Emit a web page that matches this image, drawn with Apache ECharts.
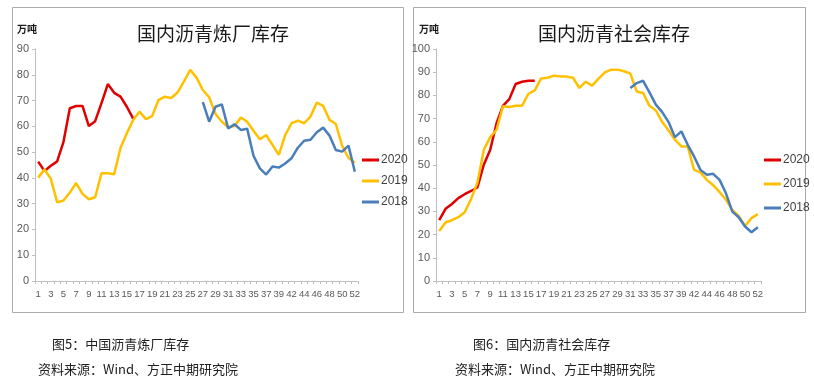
<!DOCTYPE html>
<html>
<head>
<meta charset="utf-8">
<script src="https://cdn.jsdelivr.net/npm/echarts@6/dist/echarts.min.js"></script>
<style>
html,body{margin:0;padding:0;background:#fff;}
#c{width:814px;height:383px;}
</style>
</head>
<body>
<div id="c"></div>
<script>
// Week categories (week 40 absent in source axis)
const weeks = ['1','2','3','4','5','6','7','8','9','10','11','12','13','14','15','16','17','18','19','20','21','22','23','24','25','26','27','28','29','30','31','32','33','34','35','36','37','38','39','41','42','43','44','45','46','47','48','49','50','51','52'];

// Chart 1: refinery inventory (万吨)
const refinery2020 = [46.3,42.7,44.7,46.4,54,67,67.9,67.9,60.1,62,69,76.4,73,71.5,67.6,63];
const refinery2019 = [40.1,43.3,39.6,30.5,31.2,34.3,38,33.8,31.7,32.5,41.8,41.8,41.4,51.6,57.3,62.5,65.7,62.8,64,70.2,71.5,71,73.1,77.3,81.9,78.9,74.1,71.3,64.8,61.8,59.6,60.1,63.4,61.8,58.3,55,56.6,52.8,48.9,56.6,61.2,62.2,61.2,63.8,69.2,67.9,62.5,60.9,52.4,47.7,45.9];
const refinery2018Start = 26; // first value at week 27
const refinery2018 = [69.4,61.8,67.6,68.5,59.2,60.8,58.6,59.1,48.6,43.7,41.3,44.4,44,45.6,47.6,51.7,54.4,54.8,57.7,59.5,56.4,50.8,50.2,52.5,42.4];

// Chart 2: social inventory (万吨)
const social2020 = [26.2,31.1,33.2,35.7,37.4,38.8,40.3,50.1,56.5,68,75.5,78.4,84.9,85.9,86.3,86.3];
const social2019 = [21.6,25.2,26.2,27.5,29.6,35.3,42.4,56.5,62,65.2,75.3,75,75.5,75.5,80.7,82.2,87.3,87.6,88.5,88.2,88.1,87.6,83.2,85.9,84.2,87.2,89.9,91.1,91.1,90.4,89.4,81.7,81,75.5,73.5,68.5,64.9,60.9,58,58,47.9,46.8,43.6,41.3,38.3,35,30.6,28.1,23.7,27.1,28.8];
const social2018Start = 30; // first value at week 31
const social2018 = [83.2,85.3,86.3,81.3,76,72.8,68.5,62,64.5,58.7,53.7,47.9,45.8,46.2,43.6,37.8,29.9,27.5,23.5,21,23.2];

const seriesNames = ['2020','2019','2018'];
const colors = {'2020':'#E00000','2019':'#FFC000','2018':'#4A7EBB'};

function pad(start, arr){ const a = []; for(let i=0;i<start;i++) a.push(null); return a.concat(arr); }

const chart = echarts.init(document.getElementById('c'), null, {renderer:'canvas'});

const axisGray = '#BFBFBF';
const labelColor = '#595959';
const sans = '"Liberation Sans", Arial, sans-serif';
const cjk = '"Noto Sans CJK SC", sans-serif';

function xAxis(gi){
  return {
    type:'category', gridIndex:gi, data:weeks, boundaryGap:true,
    axisLine:{lineStyle:{color:axisGray,width:1}},
    axisTick:{show:true,interval:0,length:3,lineStyle:{color:axisGray}},
    axisLabel:{interval:1,color:labelColor,fontSize:9.5,fontFamily:sans,margin:8}
  };
}
function yAxis(gi,max){
  return {
    type:'value', gridIndex:gi, min:0, max:max, interval:10,
    axisLine:{show:true,lineStyle:{color:axisGray,width:1}},
    axisTick:{show:true,length:3,lineStyle:{color:axisGray}},
    splitLine:{show:false},
    axisLabel:{color:labelColor,fontSize:11,fontFamily:sans,margin:6}
  };
}
function line(name, gi, data){
  return {
    name:name, type:'line', xAxisIndex:gi, yAxisIndex:gi, data:data,
    symbol:'none', smooth:false, connectNulls:false,
    lineStyle:{color:colors[name],width:2.5},
    itemStyle:{color:colors[name]}, animation:false
  };
}

const option = {
  animation:false,
  backgroundColor:'#fff',
  title:[
    {text:'国内沥青炼厂库存',left:208,top:19,textAlign:'center',textStyle:{fontFamily:cjk,fontSize:19,fontWeight:'normal',color:'#1a1a1a'}},
    {text:'国内沥青社会库存',left:609,top:19,textAlign:'center',textStyle:{fontFamily:cjk,fontSize:19,fontWeight:'normal',color:'#1a1a1a'}}
  ],
  grid:[
    {left:35,top:49,width:323,height:232,containLabel:false},
    {left:436,top:49,width:325,height:232,containLabel:false}
  ],
  xAxis:[xAxis(0),xAxis(1)],
  yAxis:[yAxis(0,90),yAxis(1,100)],
  legend:[
    {data:seriesNames,orient:'vertical',left:357,top:149,icon:'rect',itemWidth:17,itemHeight:3,itemGap:9,
     textStyle:{fontSize:12,color:'#404040',fontFamily:sans,padding:[0,0,0,-3]}},
    {data:seriesNames,orient:'vertical',left:759,top:149,icon:'rect',itemWidth:17,itemHeight:3,itemGap:12,
     textStyle:{fontSize:12,color:'#404040',fontFamily:sans,padding:[0,0,0,-3]}}
  ],
  series:[
    line('2020',0,refinery2020),
    line('2019',0,refinery2019),
    line('2018',0,pad(refinery2018Start,refinery2018)),
    line('2020',1,social2020),
    line('2019',1,social2019),
    line('2018',1,pad(social2018Start,social2018))
  ],
  graphic:[
    {type:'rect',shape:{x:12.5,y:7.5,width:391,height:305},style:{fill:null,stroke:'#ABABAB',lineWidth:1},silent:true},
    {type:'rect',shape:{x:413.5,y:7.5,width:392,height:305},style:{fill:null,stroke:'#ABABAB',lineWidth:1},silent:true},
    {type:'text',left:17,top:24,style:{text:'万吨',font:'bold 10px "Noto Sans CJK SC", sans-serif',fill:'#1a1a1a'}},
    {type:'text',left:419,top:24,style:{text:'万吨',font:'bold 10px "Noto Sans CJK SC", sans-serif',fill:'#1a1a1a'}},
    {type:'text',left:52,top:338,style:{text:'图5：中国沥青炼厂库存',font:'13px "Noto Sans CJK SC", sans-serif',fill:'#222'}},
    {type:'text',left:38,top:363,style:{text:'资料来源：Wind、方正中期研究院',font:'13px "Noto Sans CJK SC", sans-serif',fill:'#222'}},
    {type:'text',left:473,top:338,style:{text:'图6：国内沥青社会库存',font:'13px "Noto Sans CJK SC", sans-serif',fill:'#222'}},
    {type:'text',left:455,top:363,style:{text:'资料来源：Wind、方正中期研究院',font:'13px "Noto Sans CJK SC", sans-serif',fill:'#222'}}
  ]
};
chart.setOption(option);
</script>
</body>
</html>
